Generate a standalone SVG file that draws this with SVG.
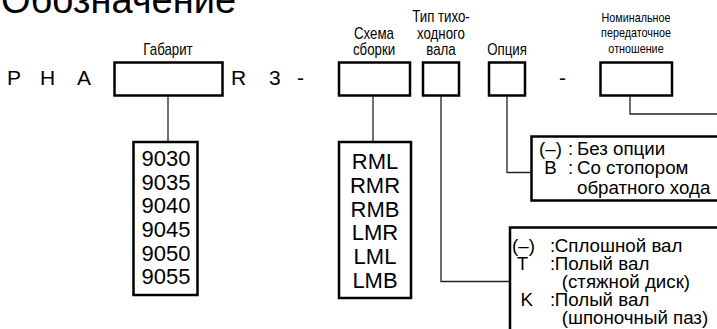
<svg xmlns="http://www.w3.org/2000/svg" width="717" height="329" viewBox="0 0 717 329">
<style>
text{font-family:"Liberation Sans",Arial,sans-serif;fill:#000}
.box{fill:#fff;stroke:#000;stroke-width:2.5}
.con{fill:none;stroke:#222;stroke-width:1.3}
.big{font-size:21px}
.lab{font-size:16px;text-anchor:middle}
.sm{font-size:13px;text-anchor:middle}
.num{font-size:22px;text-anchor:middle}
.leg{font-size:17.5px}
</style>
<rect width="717" height="329" fill="#fff"/>
<text x="1" y="13" font-size="38">Обозначение</text>
<g id="prefix">
<text class="big" y="85"><tspan x="7">P</tspan><tspan x="40">H</tspan><tspan x="77">A</tspan><tspan x="231">R</tspan><tspan x="269">3</tspan><tspan x="297">-</tspan><tspan x="559">-</tspan></text>
</g>
<g id="gabarit">
<text class="lab" transform="translate(168,55) scale(0.83,1)">Габарит</text>
<rect class="box" x="114.5" y="62.5" width="108" height="33"/>
</g>
<g id="schema">
<text class="lab" transform="translate(374,0) scale(0.83,1)"><tspan x="0" y="39">Схема</tspan><tspan x="0" y="55">сборки</tspan></text>
<rect class="box" x="339" y="62.5" width="71" height="33"/>
</g>
<g id="tip">
<text class="lab" transform="translate(441,0) scale(0.83,1)"><tspan x="0" y="22">Тип тихо-</tspan><tspan x="0" y="39">ходного</tspan><tspan x="0" y="55">вала</tspan></text>
<rect class="box" x="423" y="62.5" width="36" height="33"/>
</g>
<g id="opcia">
<text class="lab" transform="translate(507,55) scale(0.83,1)">Опция</text>
<rect class="box" x="489" y="62.5" width="36" height="33"/>
</g>
<g id="nominal">
<text class="sm" transform="translate(636,0) scale(0.83,1)"><tspan x="0" y="22">Номинальное</tspan><tspan x="0" y="37.5">передаточное</tspan><tspan x="0" y="53">отношение</tspan></text>
<rect class="box" x="600.5" y="62.5" width="71.5" height="33"/>
</g>
<g id="connectors">
<path class="con" d="M168,96V141"/>
<path class="con" d="M373,96V141"/>
<path class="con" d="M441,96V281.5H509"/>
<path class="con" d="M507,96V172.5H531"/>
<path class="con" d="M630,96V114H717"/>
</g>
<g id="sizes">
<rect class="box" x="133.5" y="142" width="64" height="153"/>
<text class="num"><tspan x="166" y="166">9030</tspan><tspan x="166" y="189.5">9035</tspan><tspan x="166" y="213">9040</tspan><tspan x="166" y="237">9045</tspan><tspan x="166" y="260.5">9050</tspan><tspan x="166" y="284">9055</tspan></text>
</g>
<g id="schemes">
<rect class="box" x="339" y="142" width="72" height="156"/>
<text class="num"><tspan x="375" y="169">RML</tspan><tspan x="375" y="193">RMR</tspan><tspan x="375" y="216.5">RMB</tspan><tspan x="375" y="240">LMR</tspan><tspan x="375" y="264">LML</tspan><tspan x="375" y="287.5">LMB</tspan></text>
</g>
<g id="options">
<rect class="box" x="531.5" y="136.5" width="200" height="64"/>
<text class="leg" transform="translate(539,0) scale(1.07,1)"><tspan x="0" y="155">(–)</tspan><tspan x="27" y="155">:</tspan><tspan x="35.5" y="155">Без опции</tspan><tspan x="5" y="174.5">B</tspan><tspan x="27" y="174.5">:</tspan><tspan x="35.5" y="174.5">Со стопором</tspan><tspan x="35.5" y="194">обратного хода</tspan></text>
</g>
<g id="shafts">
<rect class="box" x="510" y="227.5" width="220" height="120"/>
<text class="leg" transform="translate(512,0) scale(1.07,1)"><tspan x="0" y="252">(–)</tspan><tspan x="35.5" y="252">:</tspan><tspan x="40" y="252">Сплошной вал</tspan><tspan x="4.5" y="270">T</tspan><tspan x="35.5" y="270">:</tspan><tspan x="40" y="270">Полый вал</tspan><tspan x="46.5" y="288">(стяжной диск)</tspan><tspan x="8" y="306">K</tspan><tspan x="35.5" y="306">:</tspan><tspan x="40" y="306">Полый вал</tspan><tspan x="46.5" y="324">(шпоночный паз)</tspan></text>
</g>
</svg>
